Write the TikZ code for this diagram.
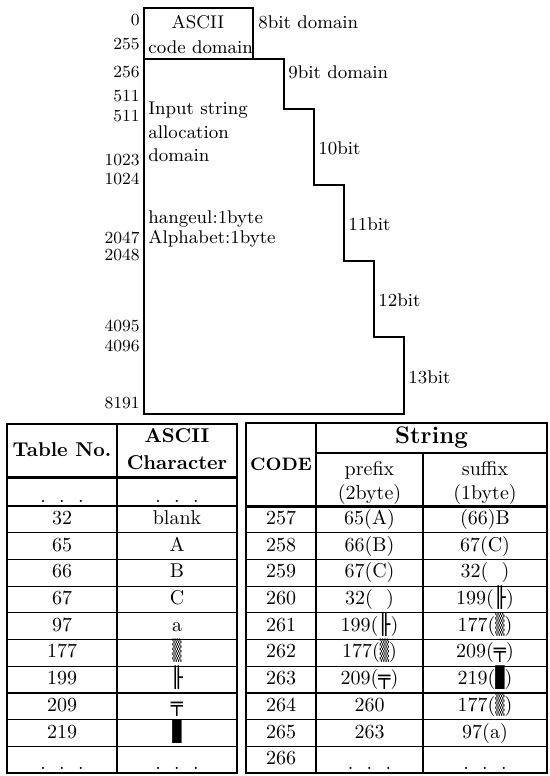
\documentclass[tikz,border=0pt]{standalone}
\usepackage{fontspec}
\newfontfamily\boxfont{DejaVu Sans}
\newcommand{\shd}{\scalebox{0.6}[1]{\boxfont\symbol{"2592}}}
\newcommand{\vdr}{{\boxfont\symbol{"255F}}}
\newcommand{\hdd}{{\boxfont\symbol{"2564}}}
\newcommand{\blk}{\scalebox{0.6}[1]{\boxfont\symbol{"2588}}}
\tikzset{
  lbl/.style={font=\fontsize{9.2}{11}\selectfont, inner sep=1pt, anchor=west},
  num/.style={font=\fontsize{8.5}{10}\selectfont, inner sep=1pt, anchor=east},
  cell/.style={font=\normalsize, inner sep=0pt, text height=7pt, text depth=2pt},
  head/.style={font=\bfseries, inner sep=0pt, text height=7pt, text depth=2pt},
  thin rule/.style={line width=0.6pt},
  heavy rule/.style={line width=1.5pt},
}
\begin{document}
\begin{tikzpicture}[x=0.5pt,y=-0.5pt]
\useasboundingbox (0,0) rectangle (550,776);
% domain steps
\draw[thin rule] (144,8)--(253,8)--(253,59)--(284,59)--(284,109)--(314,109)--(314,185)--(344,185)--(344,261)--(374,261)--(374,337)--(404,337)--(404,414)--(144,414)--cycle;
\draw[thin rule] (144,59)--(253,59);
\node (ascii) at (198,22) [lbl,anchor=center] {ASCII};
\node (code) at (146,47) [lbl] {code domain};
\node (d8) at (256,22) [lbl] {8bit domain};
\node (d9) at (286,72) [lbl] {9bit domain};
\node (d10) at (316,148) [lbl] {10bit};
\node (d11) at (346,224) [lbl] {11bit};
\node (d12) at (376,300) [lbl] {12bit};
\node (d13) at (406,377) [lbl] {13bit};
\node (inp) at (146,110) [lbl] {Input string};
\node (alloc) at (146,132) [lbl] {allocation};
\node (dom) at (146,155) [lbl] {domain};
\node (hang) at (146,219) [lbl] {hangeul:1byte};
\node (alph) at (146,239) [lbl] {Alphabet:1byte};
% range limits
\node (v0) at (142,20) [num] {0};
\node (v255) at (142,44) [num] {255};
\node (v256) at (142,72) [num] {256};
\node (v511a) at (142,96) [num] {511};
\node (v511b) at (142,116) [num] {511};
\node (v1023) at (142,160) [num] {1023};
\node (v1024) at (142,179) [num] {1024};
\node (v2047) at (142,238) [num] {2047};
\node (v2048) at (142,255) [num] {2048};
\node (v4095) at (142,326) [num] {4095};
\node (v4096) at (142,346) [num] {4096};
\node (v8191) at (142,403) [num] {8191};
% left table
\draw[thin rule] (7,424) rectangle (237,773);
\draw[thin rule] (117,424)--(117,773);
\draw[heavy rule] (7,477)--(237,477);
\draw[thin rule] (7,506)--(237,506);
\draw[thin rule] (7,532.7)--(237,532.7);
\draw[thin rule] (7,559.4)--(237,559.4);
\draw[thin rule] (7,586.1)--(237,586.1);
\draw[thin rule] (7,612.8)--(237,612.8);
\draw[thin rule] (7,639.5)--(237,639.5);
\draw[thin rule] (7,666.2)--(237,666.2);
\draw[thin rule] (7,692.9)--(237,692.9);
\draw[thin rule] (7,719.6)--(237,719.6);
\draw[thin rule] (7,746.3)--(237,746.3);
\node (tabno) at (62,451) [head] {Table No.};
\node (asc) at (177,437) [head] {ASCII};
\node (chr) at (177,464) [head] {Character};
\node (ta) at (62,497) [cell] {.\ \ .\ \ .};
\node (ca) at (177,497) [cell] {.\ \ .\ \ .};
\node (t32) at (62,519.4) [cell] {32};
\node (c32) at (177,519.4) [cell] {blank};
\node (t65) at (62,546.1) [cell] {65};
\node (c65) at (177,546.1) [cell] {A};
\node (t66) at (62,572.8) [cell] {66};
\node (c66) at (177,572.8) [cell] {B};
\node (t67) at (62,599.5) [cell] {67};
\node (c67) at (177,599.5) [cell] {C};
\node (t97) at (62,626.2) [cell] {97};
\node (c97) at (177,626.2) [cell] {a};
\node (t177) at (62,652.9) [cell] {177};
\node (c177) at (177,652.9) [cell] {\shd};
\node (t199) at (62,679.6) [cell] {199};
\node (c199) at (177,679.6) [cell] {\vdr};
\node (t209) at (62,706.3) [cell] {209};
\node (c209) at (177,706.3) [cell] {\hdd};
\node (t219) at (62,733) [cell] {219};
\node (c219) at (177,733) [cell] {\blk};
\node (tz) at (62,764) [cell] {.\ \ .\ \ .};
\node (cz) at (177,764) [cell] {.\ \ .\ \ .};
% right table
\draw[thin rule] (246,423) rectangle (547,773);
\draw[line width=1pt] (246,423)--(547,423);
\draw[thin rule] (316,423)--(316,773);
\draw[thin rule] (316,453)--(547,453);
\draw[thin rule] (423,453)--(423,773);
\draw[heavy rule] (246,506)--(547,506);
\draw[thin rule] (246,532.7)--(547,532.7);
\draw[thin rule] (246,559.4)--(547,559.4);
\draw[thin rule] (246,586.1)--(547,586.1);
\draw[thin rule] (246,612.8)--(547,612.8);
\draw[thin rule] (246,639.5)--(547,639.5);
\draw[thin rule] (246,666.2)--(547,666.2);
\draw[thin rule] (246,692.9)--(547,692.9);
\draw[thin rule] (246,719.6)--(547,719.6);
\draw[thin rule] (246,746.3)--(547,746.3);
\node (codeh) at (281,465) [head,font=\fontsize{9}{11}\bfseries] {CODE};
\node (strh) at (431.5,438) [head,font=\bfseries\large] {String};
\node (pre) at (369.5,470) [cell] {prefix};
\node (preb) at (369.5,494) [cell] {(2byte)};
\node (suf) at (485,470) [cell] {suffix};
\node (sufb) at (485,494) [cell] {(1byte)};
\node (k257) at (281,519.4) [cell] {257};
\node (p257) at (369.5,519.4) [cell] {65(A)};
\node (s257) at (485,519.4) [cell] {(66)B};
\node (k258) at (281,546.1) [cell] {258};
\node (p258) at (369.5,546.1) [cell] {66(B)};
\node (s258) at (485,546.1) [cell] {67(C)};
\node (k259) at (281,572.8) [cell] {259};
\node (p259) at (369.5,572.8) [cell] {67(C)};
\node (s259) at (485,572.8) [cell] {32(\ \ )};
\node (k260) at (281,599.5) [cell] {260};
\node (p260) at (369.5,599.5) [cell] {32(\ \ )};
\node (s260) at (485,599.5) [cell] {199(\vdr)};
\node (k261) at (281,626.2) [cell] {261};
\node (p261) at (369.5,626.2) [cell] {199(\vdr)};
\node (s261) at (485,626.2) [cell] {177(\shd)};
\node (k262) at (281,652.9) [cell] {262};
\node (p262) at (369.5,652.9) [cell] {177(\shd)};
\node (s262) at (485,652.9) [cell] {209(\hdd)};
\node (k263) at (281,679.6) [cell] {263};
\node (p263) at (369.5,679.6) [cell] {209(\hdd)};
\node (s263) at (485,679.6) [cell] {219(\blk)};
\node (k264) at (281,706.3) [cell] {264};
\node (p264) at (369.5,706.3) [cell] {260};
\node (s264) at (485,706.3) [cell] {177(\shd)};
\node (k265) at (281,733) [cell] {265};
\node (p265) at (369.5,733) [cell] {263};
\node (s265) at (485,733) [cell] {97(a)};
\node (k266) at (281,759.7) [cell] {266};
\node (p266) at (369.5,764) [cell] {.\ \ .\ \ .};
\node (s266) at (485,764) [cell] {.\ \ .\ \ .};
\end{tikzpicture}
\end{document}
